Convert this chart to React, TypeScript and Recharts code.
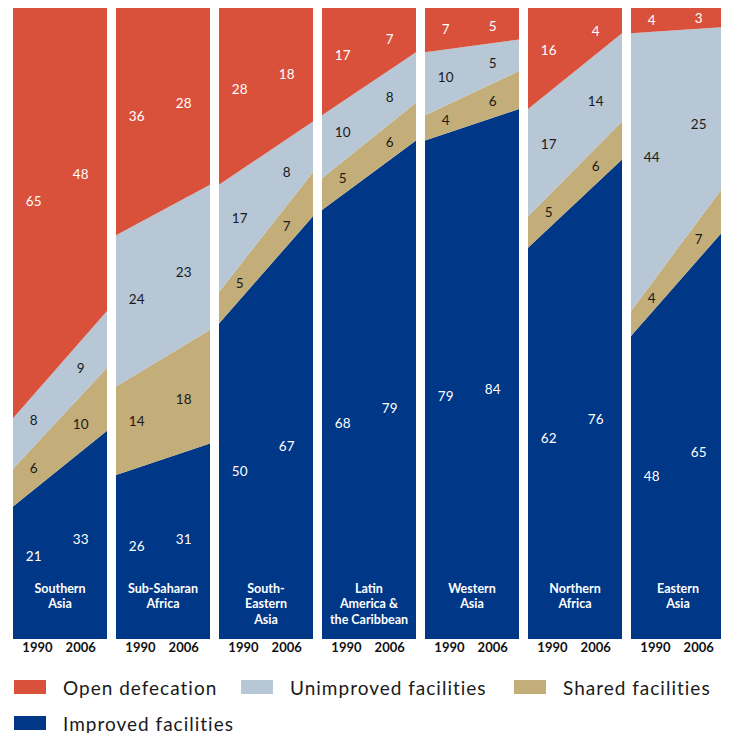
import React from "react";
import { AreaChart, Area, XAxis, YAxis, ReferenceDot } from "recharts";

const years = ["1990", "2006"];
const regions = [
  ["Southern", "Asia"],
  ["Sub-Saharan", "Africa"],
  ["South-", "Eastern", "Asia"],
  ["Latin", "America &", "the Caribbean"],
  ["Western", "Asia"],
  ["Northern", "Africa"],
  ["Eastern", "Asia"],
];

const improved1990 = [21, 26, 50, 68, 79, 62, 48];
const improved2006 = [33, 31, 67, 79, 84, 76, 65];
const shared1990 = [6, 14, 5, 5, 4, 5, 4];
const shared2006 = [10, 18, 7, 6, 6, 6, 7];
const unimproved1990 = [8, 24, 17, 10, 10, 17, 44];
const unimproved2006 = [9, 23, 8, 8, 5, 14, 25];
const open1990 = [65, 36, 28, 17, 7, 16, 4];
const open2006 = [48, 28, 18, 7, 5, 4, 3];

const series = [
  { key: "improved", name: "Improved facilities", color: "#003787", text: "#ffffff", v: [improved1990, improved2006] },
  { key: "shared", name: "Shared facilities", color: "#C3AD78", text: "#1a1a1a", v: [shared1990, shared2006] },
  { key: "unimproved", name: "Unimproved facilities", color: "#B7C7D6", text: "#1a1a1a", v: [unimproved1990, unimproved2006] },
  { key: "open", name: "Open defecation", color: "#D9513A", text: "#ffffff", v: [open1990, open2006] },
];

const FONT = "Lato, 'Open Sans', sans-serif";
const labelX = [0.22, 0.72];

function Panel({ i }: { i: number }) {
  const data = years.map((y, k) => {
    const row: any = { x: k, year: y };
    series.forEach((s) => (row[s.key] = s.v[k][i]));
    return row;
  });

  // label positions: centre of each band at labelX
  const labels: any[] = [];
  labelX.forEach((t, k) => {
    let below = 0;
    series.forEach((s, si) => {
      const lo = below;
      const val = s.v[0][i] + t * (s.v[1][i] - s.v[0][i]);
      const hi = lo + val;
      below = hi;
      const yc = si === 0 ? hi * 0.45 + 2.5 : (lo + hi) / 2;
      labels.push({ x: t, y: yc, text: String(s.v[k][i]), color: s.text, key: `${s.key}-${k}` });
    });
  });

  return (
    <AreaChart width={94} height={660} data={data} margin={{ top: 0, right: 0, bottom: 0, left: 0 }}>
      <XAxis
        dataKey="x" type="number" domain={[0, 1]}
        ticks={[0.26, 0.72]} interval={0}
        tickFormatter={(v) => (v < 0.5 ? years[0] : years[1])}
        axisLine={false} tickLine={false} tickSize={0} tickMargin={4} height={29}
        tick={{ fill: "#111", fontSize: 13, fontWeight: 700, fontFamily: FONT }} />
      <YAxis hide type="number" domain={[0, 100]} />
      {series.map((s) => (
        <Area
          key={s.key} type="linear" dataKey={s.key} stackId="a"
          stroke="none" fill={s.color} fillOpacity={1}
          isAnimationActive={false} />
      ))}
      {labels.map((l) => (
        <ReferenceDot
          key={l.key} x={l.x} y={l.y} r={0}
          shape={(p: any) => (
            <text x={p.cx} y={p.cy} textAnchor="middle" dominantBaseline="central"
              fill={l.color} fontSize={13.5} fontFamily={FONT}>
              {l.text}
            </text>
          )} />
      ))}
      <ReferenceDot
        x={0.5} y={0} r={0}
        shape={(p: any) => (
          <text x={p.cx} textAnchor="middle" fill="#ffffff" fontSize={12.5} fontWeight={700} fontFamily={FONT}>
            {regions[i].map((line, li) => (
              <tspan key={li} x={p.cx} y={p.cy - 51 + li * 15.7} dominantBaseline="central">{line}</tspan>
            ))}
          </text>
        )} />
    </AreaChart>
  );
}

function LegendItem({ color, label, left, top }: { color: string; label: string; left: number; top: number }) {
  return (
    <div style={{ position: "absolute", left, top, display: "flex", alignItems: "center", height: 20 }}>
      <div style={{ width: 32, height: 14, background: color }} />
      <span style={{ marginLeft: 17, fontSize: 19, letterSpacing: 1, color: "#1a1a1a", fontFamily: FONT }}>
        {label}
      </span>
    </div>
  );
}

export default function App() {
  return (
    <div style={{ position: "relative", width: 721, height: 725, fontFamily: FONT }}>
      <div style={{ display: "flex", gap: 9, marginLeft: 5 }}>
        {regions.map((_, i) => (
          <Panel key={i} i={i} />
        ))}
      </div>
      <LegendItem color={series[3].color} label={series[3].name} left={6} top={669} />
      <LegendItem color={series[2].color} label={series[2].name} left={233} top={669} />
      <LegendItem color={series[1].color} label={series[1].name} left={506} top={669} />
      <LegendItem color={series[0].color} label={series[0].name} left={6} top={705} />
    </div>
  );
}
